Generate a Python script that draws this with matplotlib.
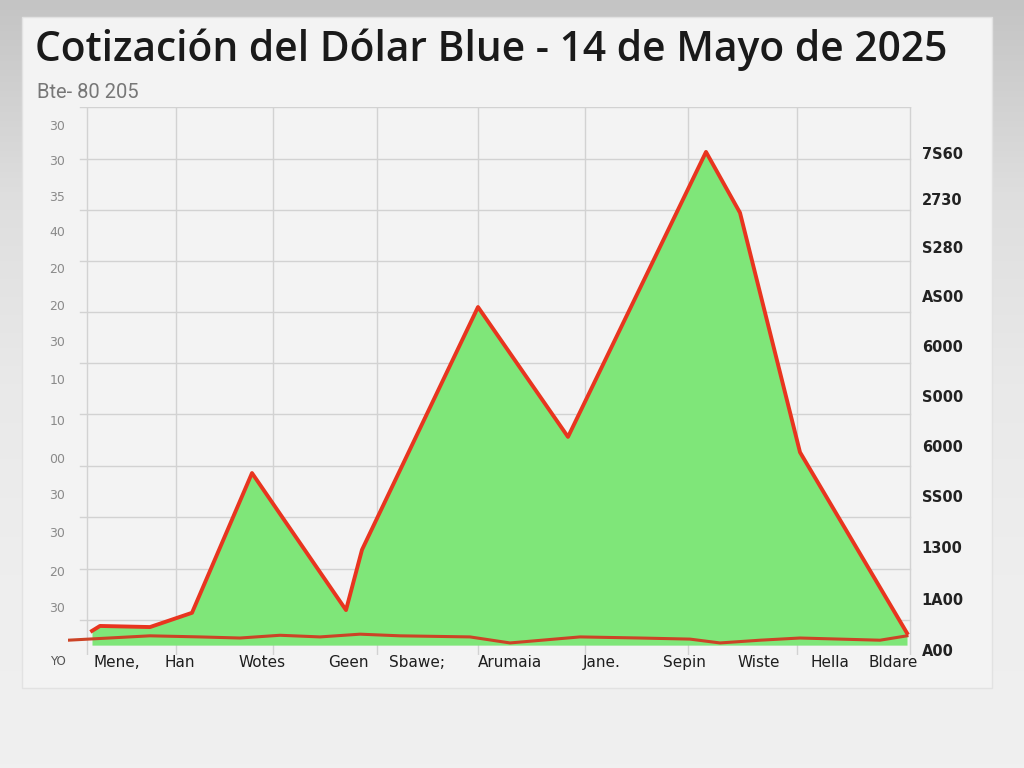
import numpy as np
import matplotlib
matplotlib.use("Agg")
import matplotlib.pyplot as plt
from matplotlib.patches import Rectangle
from matplotlib.colors import LinearSegmentedColormap
from matplotlib.ticker import FixedLocator, FixedFormatter, NullFormatter

# ---------------- data ----------------
upper_x = [24, 32, 82, 124, 184, 278, 294, 410, 500, 638, 672, 732, 839]
upper_y = [4.4, 5.3, 5.1, 7.7, 33.2, 8.2, 19.2, 63.5, 39.8, 91.8, 80.7, 37.0, 4.0]

lower_x = [0, 82, 132, 172, 212, 252, 292, 332, 402, 442, 512, 572, 622, 652, 692, 732, 772, 812, 839]
lower_y = [2.7, 3.5, 3.3, 3.1, 3.6, 3.3, 3.8, 3.5, 3.3, 2.2, 3.3, 3.1, 2.9, 2.2, 2.7, 3.1, 2.9, 2.7, 3.5]
floor_y = 1.8

grid_x = [19, 108, 205, 309, 410, 517, 620, 729, 842]
grid_y = [100, 90.5, 81.2, 71.9, 62.6, 53.3, 44.0, 34.5, 25.2, 15.7, 6.4]

left_pos = [96.7, 90.3, 83.8, 77.4, 70.6, 63.9, 57.3, 50.4, 42.9, 35.9, 29.4, 22.4, 15.3, 8.8]
left_labels = ["30", "30", "35", "40", "20", "20", "30", "10", "10", "00", "30", "30", "20", "30"]

right_pos = [91.6, 83.2, 74.5, 65.5, 56.4, 47.3, 38.1, 29.0, 19.7, 10.2, 0.9]
right_labels = ["7S60", "2730", "S280", "AS00", "6000", "S000", "6000", "SS00", "1300", "1A00", "A00"]

x_pos = [49, 112, 194, 280, 349, 442, 534, 616, 691, 762, 825]
x_labels = ["Mene,", "Han", "Wotes", "Geen", "Sbawe;", "Arumaia", "Jane.", "Sepin", "Wiste", "Hella", "Bldare"]

title = "Cotización del Dólar Blue - 14 de Mayo de 2025"
subtitle = "Bte- 80 205"

# ---------------- figure ----------------
W, H = 1024, 768
fig = plt.figure(figsize=(W / 100, H / 100), dpi=100)

bg = fig.add_axes([0, 0, 1, 1], zorder=-10)
grad = np.linspace(0, 1, 256).reshape(-1, 1)
cmap = LinearSegmentedColormap.from_list("bg", ["#c4c4c4", "#dedede", "#e9e9e9", "#eeeeee", "#f0f0f0"])
bg.imshow(grad, aspect="auto", cmap=cmap, extent=[0, 1, 0, 1], origin="upper")
bg.set_xlim(0, 1)
bg.set_ylim(0, 1)
bg.axis("off")
bg.add_patch(Rectangle((22 / W, 1 - 688 / H), (992 - 22) / W, (688 - 17) / H,
                       facecolor="#f3f3f3", edgecolor="#e2e2e2", lw=1))


def fx(px):
    return px / W


def fy(py):
    return 1 - py / H


ax_left, ax_right, ax_top, ax_bot = 68, 912, 107, 655
ax = fig.add_axes([fx(ax_left), fy(ax_bot), (ax_right - ax_left) / W, (ax_bot - ax_top) / H])
ax.set_facecolor("none")
ax.set_xlim(0, 844)
ax.set_ylim(0, 100)
for s in ax.spines.values():
    s.set_visible(False)

ax.xaxis.set_major_locator(FixedLocator(grid_x))
ax.xaxis.set_major_formatter(NullFormatter())
ax.grid(True, axis="x", which="major", color="#d2d2d2", lw=1)
ax.yaxis.set_major_locator(FixedLocator(grid_y))
ax.yaxis.set_major_formatter(NullFormatter())
ax.tick_params(which="major", length=0)
for gy in grid_y:
    ax.plot([12, 842], [gy, gy], color="#d2d2d2", lw=1, zorder=0.5)

ax.yaxis.set_minor_locator(FixedLocator(left_pos))
ax.yaxis.set_minor_formatter(FixedFormatter(left_labels))
ax.xaxis.set_minor_locator(FixedLocator(x_pos))
ax.xaxis.set_minor_formatter(FixedFormatter(x_labels))
ax.tick_params(axis="y", which="minor", length=0, pad=2, labelsize=9, labelcolor="#8a8a8a")
ax.tick_params(axis="x", which="minor", length=0, pad=0, labelsize=11, labelcolor="#1e1e1e")

ax.fill_between(upper_x, upper_y, floor_y, color="#7fe679", zorder=2, lw=0)
ax.plot(upper_x, upper_y, color="#e8351f", lw=2.8, zorder=4, solid_joinstyle="round")
ax.plot(lower_x, lower_y, color="#cc4326", lw=2.2, zorder=3)

ax2 = ax.twinx()
ax2.set_ylim(0, 100)
for s in ax2.spines.values():
    s.set_visible(False)
ax2.yaxis.set_major_locator(FixedLocator(right_pos))
ax2.yaxis.set_major_formatter(FixedFormatter(right_labels))
ax2.tick_params(axis="y", length=0, pad=7, labelsize=10.5, labelcolor="#222222")
for t in ax2.get_yticklabels():
    t.set_fontweight("bold")

ax.text(-10, 0, "YO", ha="center", va="top", fontsize=8.5, color="#555555",
        clip_on=False, transform=ax.transData)

fig.text(fx(35), fy(50), title, ha="left", va="center", fontsize=29.3,
         family="Open Sans", weight="semibold", color="#1a1a1a")
fig.text(fx(37), fy(93), subtitle, ha="left", va="center", fontsize=14.5,
         family="Roboto", color="#777777")

fig.savefig("out.png", dpi=100, facecolor="#e6e6e6")
